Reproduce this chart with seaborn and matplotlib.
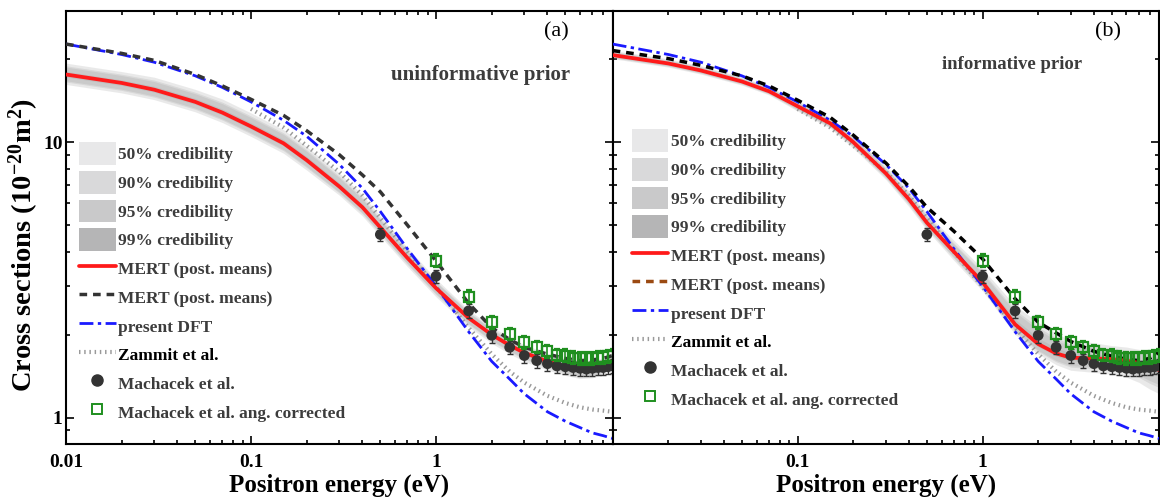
import numpy as np
import matplotlib
matplotlib.use("Agg")
import matplotlib.pyplot as plt
from matplotlib.lines import Line2D
from matplotlib.patches import Patch
from matplotlib.ticker import LogLocator, NullFormatter, FixedLocator
import seaborn as sns
import pandas as pd

sns.set_theme(style="ticks")
plt.rcParams["font.family"] = ["Liberation Serif", "DejaVu Serif"]
plt.rcParams["mathtext.fontset"] = "custom"
plt.rcParams["mathtext.rm"] = "Liberation Serif:bold"
plt.rcParams["mathtext.bf"] = "Liberation Serif:bold"
plt.rcParams["mathtext.it"] = "Liberation Serif:bold"

# energy grid (eV)
energy = [0.01, 0.02, 0.03, 0.05, 0.07, 0.1, 0.15, 0.2, 0.3, 0.4, 0.5, 0.7,
          1.0, 1.5, 2.0, 2.5, 3.0, 4.0, 5.0, 6.0, 7.0, 8.0, 9.0]

# panel (a) uninformative prior
mert_uninf = [17.6, 16.4, 15.5, 14.0, 12.8, 11.4, 9.9, 8.6, 6.9, 5.8, 4.9, 3.8,
              2.95, 2.3, 2.0, 1.83, 1.72, 1.6, 1.53, 1.49, 1.5, 1.54, 1.61]
mert_uninf_alt = [22.7, 21.0, 19.8, 17.6, 16.0, 14.3, 12.5, 11.0, 9.0, 7.6, 6.6, 5.0,
                  3.7, 2.6, 2.12, 1.92, 1.8, 1.7, 1.64, 1.61, 1.62, 1.64, 1.68]
band99_lo_a = [0.92, 0.92, 0.92, 0.92, 0.92, 0.92, 0.92, 0.92, 0.93, 0.93, 0.93, 0.93,
               0.93, 0.93, 0.93, 0.93, 0.93, 0.93, 0.93, 0.93, 0.93, 0.93, 0.93]
band99_hi_a = [1.10, 1.10, 1.11, 1.11, 1.12, 1.12, 1.12, 1.12, 1.12, 1.11, 1.10, 1.09,
               1.08, 1.07, 1.07, 1.07, 1.07, 1.07, 1.07, 1.07, 1.07, 1.07, 1.07]

# panel (b) informative prior
mert_inf = [20.7, 19.3, 18.2, 16.6, 15.3, 13.5, 11.7, 10.0, 7.7, 6.2, 5.1, 4.0,
            3.1, 2.18, 1.85, 1.71, 1.65, 1.64, 1.63, 1.61, 1.58, 1.53, 1.49]
mert_inf_alt = [21.5, 20.1, 19.0, 17.4, 16.0, 14.2, 12.3, 10.6, 8.4, 6.9, 5.8, 4.75,
                3.77, 2.7, 2.22, 2.03, 1.89, 1.74, 1.67, 1.63, 1.61, 1.64, 1.73]
band99_lo_b = [0.97, 0.97, 0.97, 0.97, 0.97, 0.96, 0.96, 0.95, 0.95, 0.94, 0.94, 0.93,
               0.93, 0.92, 0.92, 0.91, 0.90, 0.89, 0.88, 0.87, 0.85, 0.83, 0.82]
band99_hi_b = [1.04, 1.04, 1.04, 1.04, 1.04, 1.05, 1.05, 1.06, 1.06, 1.07, 1.08, 1.10,
               1.12, 1.17, 1.20, 1.18, 1.16, 1.14, 1.12, 1.12, 1.12, 1.15, 1.18]

# reference theory
dft = [22.7, 20.8, 19.5, 17.4, 15.8, 14.0, 12.0, 10.5, 8.3, 6.8, 5.6, 4.1,
       3.0, 2.05, 1.6, 1.38, 1.22, 1.05, 0.97, 0.92, 0.88, 0.86, 0.84]
zammit_energy = [0.1, 0.15, 0.2, 0.3, 0.4, 0.5, 0.7, 1.0, 1.5, 2.0, 2.5, 3.0,
                 4.0, 5.0, 6.0, 7.0, 8.0, 9.0]
zammit = [13.2, 11.3, 9.7, 7.8, 6.4, 5.3, 4.0, 2.98, 2.12, 1.7, 1.47, 1.34,
          1.2, 1.13, 1.09, 1.07, 1.06, 1.05]

# experiment
mach_energy = [0.5, 1.0, 1.5, 2.0, 2.5, 3.0, 3.5, 4.0, 4.5, 5.0, 5.5, 6.0, 6.5,
               7.0, 7.5, 8.0, 8.5, 9.0]
mach = [4.62, 3.26, 2.44, 1.99, 1.80, 1.68, 1.61, 1.57, 1.54, 1.53, 1.52, 1.51,
        1.50, 1.51, 1.52, 1.52, 1.53, 1.54]
mach_err = [0.25, 0.18, 0.14, 0.12, 0.10, 0.10, 0.09, 0.09, 0.09, 0.09, 0.09, 0.09,
            0.09, 0.09, 0.09, 0.09, 0.09, 0.09]
mach_ang_energy = [1.0, 1.5, 2.0, 2.5, 3.0, 3.5, 4.0, 4.5, 5.0, 5.5, 6.0, 6.5,
                   7.0, 7.5, 8.0, 8.5, 9.0]
mach_ang = [3.71, 2.75, 2.22, 2.01, 1.88, 1.80, 1.74, 1.69, 1.68, 1.65, 1.64, 1.64,
            1.64, 1.65, 1.66, 1.67, 1.68]
mach_ang_err = [0.20, 0.15, 0.12, 0.10, 0.10, 0.09, 0.09, 0.09, 0.09, 0.09, 0.09, 0.09,
                0.09, 0.09, 0.09, 0.09, 0.09]

levels = ["50%", "90%", "95%", "99%"]
level_colors = ["#e8e8e9", "#d9d9da", "#c9c9ca", "#b5b5b6"]
level_frac = [0.26, 0.64, 0.76, 1.0]  # width relative to the 99% band

RED = "#ff1a1a"
BLUE = "#1a1aff"
GREEN = "#1f8f1f"
LABEL_GRAY = "#3c3c3c"
DASH = (0, (2.2, 1.7))
DASHDOT = (0, (5, 1.6, 1.2, 1.6))
DOTS = (0, (0.35, 0.9))

fig = plt.figure(figsize=(11.6, 5.0), dpi=100)
W, H = 1160.0, 500.0
bottom = 1 - 444.3 / H
height = 433.6 / H
ax_a = fig.add_axes([66 / W, bottom, 546.6 / W, height])
ax_b = fig.add_axes([612.7 / W, bottom, 546.3 / W, height])


def draw_panel(ax, mean, alt, lo99, hi99, alt_color, legend_alt_color):
    df = pd.DataFrame({"E": energy, "mean": mean, "alt": alt, "dft": dft})
    m = np.array(mean)
    for frac in level_frac:
        lo = m * (1 - (1 - np.array(lo99)) * frac)
        hi = m * (1 + (np.array(hi99) - 1) * frac)
        ax.fill_between(energy, lo, hi, color="#8f8f8f", alpha=0.19, lw=0, zorder=1)

    sns.lineplot(data=pd.DataFrame({"E": zammit_energy, "z": zammit}), x="E", y="z",
                 ax=ax, color="0.6", lw=3.0, linestyle=DOTS, zorder=2)
    sns.lineplot(data=df, x="E", y="dft", ax=ax, color=BLUE, lw=2.0,
                 linestyle=DASHDOT, zorder=3)
    sns.lineplot(data=df, x="E", y="alt", ax=ax, color=alt_color, lw=2.5,
                 linestyle=DASH, zorder=3)
    sns.lineplot(data=df, x="E", y="mean", ax=ax, color=RED, lw=2.7, zorder=4)

    ax.errorbar(mach_energy, mach, yerr=mach_err, fmt="none", ecolor="#333333",
                elinewidth=1.0, capsize=2.5, capthick=1.0, zorder=5)
    sns.scatterplot(x=mach_energy, y=mach, ax=ax, color="#333333", s=60,
                    edgecolor="none", marker="o", zorder=6)
    ax.errorbar(mach_ang_energy, mach_ang, yerr=mach_ang_err, fmt="s", ms=7,
                mfc="none", mec=GREEN, mew=1.6, ecolor=GREEN, elinewidth=1.2,
                capsize=2.5, capthick=1.2, zorder=7)

    ax.set_xscale("log")
    ax.set_yscale("log")
    ax.set_xlim(0.01, 9.0)
    ax.set_ylim(0.8, 30)
    ax.set_xlabel("")
    ax.set_ylabel("")

    ax.yaxis.set_major_locator(FixedLocator([1, 10]))
    ax.yaxis.set_minor_locator(LogLocator(base=10, subs=np.arange(2, 10)))
    ax.yaxis.set_minor_formatter(NullFormatter())
    ax.xaxis.set_major_locator(FixedLocator([0.01, 0.1, 1]))
    ax.xaxis.set_minor_locator(LogLocator(base=10, subs=np.arange(2, 10)))
    ax.xaxis.set_minor_formatter(NullFormatter())

    ax.tick_params(which="both", direction="in", top=True, right=True,
                   colors="black", width=1.2)
    ax.tick_params(which="major", length=6, labelsize=14)
    ax.tick_params(axis="x", which="major", pad=7)
    ax.tick_params(axis="y", which="major", pad=2.5)
    ax.tick_params(which="minor", length=3)
    for sp in ax.spines.values():
        sp.set_color("black")
        sp.set_linewidth(1.5)

    handles = [Patch(facecolor=c, edgecolor="none") for c in level_colors]
    handles += [
        Line2D([], [], color=RED, lw=2.7),
        Line2D([], [], color=legend_alt_color, lw=2.5, linestyle=DASH),
        Line2D([], [], color=BLUE, lw=2.0, linestyle=DASHDOT),
        Line2D([], [], color="0.6", lw=3.0, linestyle=DOTS),
        Line2D([], [], color="#333333", marker="o", ms=8, lw=0),
        Line2D([], [], color=GREEN, marker="s", ms=7, mfc="none", mew=1.4, lw=0),
    ]
    labels = [f"{lv} credibility" for lv in levels] + [
        "MERT (post. means)", "MERT (post. means)", "present DFT", "Zammit et al.",
        "Machacek et al.", "Machacek et al. ang. corrected"]
    return handles, labels


legend_kw = dict(loc="upper left", frameon=False, borderpad=0, borderaxespad=0,
                 handlelength=2.1, handleheight=1.66, handletextpad=0.15,
                 labelspacing=0.33, prop={"weight": "bold", "size": 12.5})

h, l = draw_panel(ax_a, mert_uninf, mert_uninf_alt, band99_lo_a, band99_hi_a,
                  "#333333", "#333333")
leg_a = ax_a.legend(h, l, bbox_to_anchor=(0.024, 0.697), **legend_kw)
h, l = draw_panel(ax_b, mert_inf, mert_inf_alt, band99_lo_b, band99_hi_b,
                  "black", "#9b4a12")
leg_b = ax_b.legend(h, l, bbox_to_anchor=(0.035, 0.727), **legend_kw)
for leg in (leg_a, leg_b):
    for t in leg.get_texts():
        t.set_color("black" if t.get_text() == "Zammit et al." else LABEL_GRAY)

ax_a.set_xticklabels(["0.01", "0.1", "1"], fontweight="bold")
ax_a.set_yticklabels(["1", "10"], fontweight="bold")
ax_b.set_xticklabels(["", "0.1", "1"], fontweight="bold")
ax_b.set_yticklabels(["", ""])

ax_a.text(0.898, 0.951, "(a)", transform=ax_a.transAxes, ha="center", va="center",
          fontsize=16, color="black")
ax_b.text(0.907, 0.951, "(b)", transform=ax_b.transAxes, ha="center", va="center",
          fontsize=16, color="black")
ax_a.text(0.922, 0.852, "uninformative prior", transform=ax_a.transAxes, ha="right",
          va="center", fontsize=15, fontweight="bold", color=LABEL_GRAY)
ax_b.text(0.859, 0.875, "informative prior", transform=ax_b.transAxes, ha="right",
          va="center", fontsize=13.5, fontweight="bold", color=LABEL_GRAY)

ax_a.set_xlabel("Positron energy (eV)", fontsize=18, fontweight="bold",
                color="black", labelpad=2)
ax_b.set_xlabel("Positron energy (eV)", fontsize=18, fontweight="bold",
                color="black", labelpad=2)
fig.text(24 / W, 1 - 245 / H, "Cross sections (10$^{-20}$m$^{2}$)", rotation=90,
         ha="center", va="center", fontsize=20.5, fontweight="bold", color="black")

fig.savefig("out.png", dpi=100)
